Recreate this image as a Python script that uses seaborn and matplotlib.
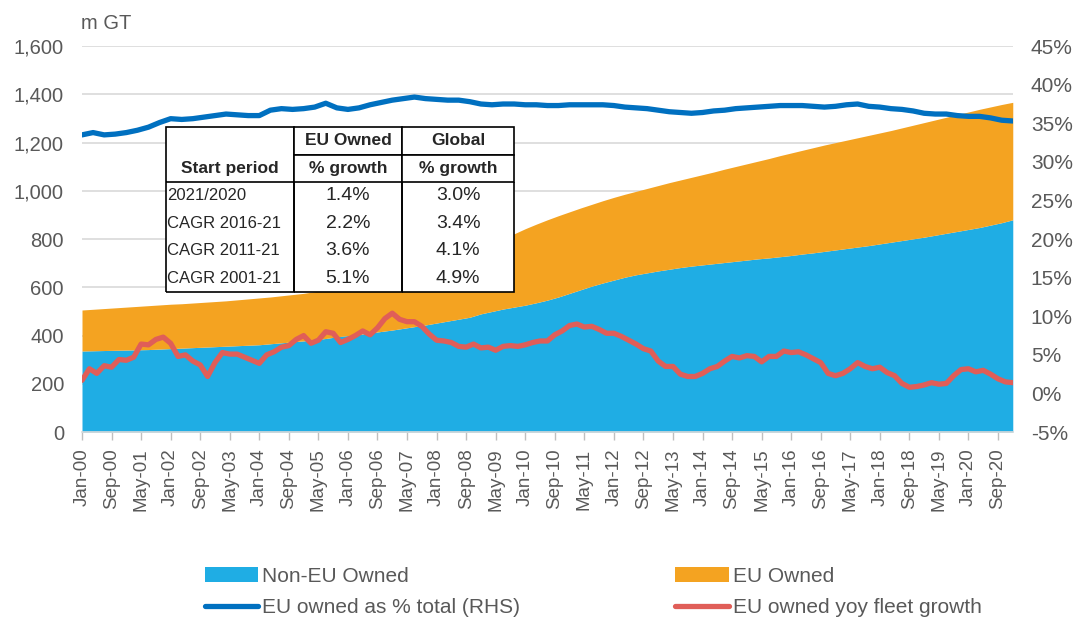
import pandas as pd
import matplotlib.pyplot as plt
import seaborn as sns
from matplotlib.patches import Rectangle

# Quarterly points, months since Jan-00
quarter_months = list(range(0, 253, 3))
non_eu_owned = [336, 337, 338, 339, 340, 341, 342, 344, 346, 348, 350, 352, 354, 356, 358, 360,
                362, 366, 370, 374, 378, 383, 388, 395, 400, 405, 411, 417, 423, 430, 437, 444,
                452, 460, 468, 476, 490, 500, 510, 518, 526, 536, 547, 560, 575, 590, 605, 618,
                630, 642, 652, 660, 668, 675, 682, 688, 693, 698, 703, 708, 713, 718, 722, 727,
                732, 738, 743, 749, 755, 761, 767, 773, 780, 787, 794, 801, 808, 816, 824, 832,
                840, 848, 858, 868, 880]
total_fleet = [506, 509, 512, 515, 518, 521, 524, 527, 530, 532, 535, 538, 541, 544, 548, 552,
               556, 560, 565, 570, 575, 582, 590, 598, 607, 616, 626, 636, 647, 658, 670, 682,
               695, 710, 725, 740, 760, 780, 800, 822, 843, 862, 880, 897, 913, 929, 944, 959,
               973, 986, 998, 1010, 1022, 1034, 1045, 1056, 1067, 1078, 1090, 1101, 1112, 1123,
               1134, 1146, 1157, 1168, 1179, 1190, 1200, 1210, 1220, 1230, 1240, 1250, 1261,
               1272, 1283, 1294, 1305, 1316, 1327, 1338, 1348, 1358, 1367]
eu_share = [33.5, 33.8, 33.5, 33.6, 33.8, 34.1, 34.5, 35.1, 35.6, 35.5, 35.6, 35.8, 36.0, 36.2,
            36.1, 36.0, 36.0, 36.7, 36.9, 36.8, 36.9, 37.1, 37.6, 37.0, 36.8, 37.0, 37.4, 37.7,
            38.0, 38.2, 38.4, 38.2, 38.1, 38.0, 38.0, 37.8, 37.5, 37.4, 37.5, 37.5, 37.4, 37.4,
            37.3, 37.3, 37.4, 37.4, 37.4, 37.4, 37.3, 37.1, 37.0, 36.9, 36.7, 36.5, 36.4, 36.3,
            36.4, 36.6, 36.7, 36.9, 37.0, 37.1, 37.2, 37.3, 37.3, 37.3, 37.2, 37.1, 37.2, 37.4,
            37.5, 37.2, 37.1, 36.9, 36.8, 36.6, 36.3, 36.2, 36.2, 36.0, 35.9, 35.9, 35.7, 35.4,
            35.3]

# Bi-monthly points for the yoy growth line
growth_months = list(range(0, 253, 2))
eu_growth = [1.7, 3.2, 2.6, 3.6, 3.4, 4.4, 4.3, 4.7, 6.4, 6.3, 7.0, 7.3, 6.5, 4.8, 5.0, 4.2,
             3.7, 2.2, 4.0, 5.3, 5.1, 5.1, 4.7, 4.3, 3.9, 5.0, 5.4, 6.0, 6.2, 7.0, 7.5, 6.5,
             6.9, 8.0, 7.8, 6.6, 7.0, 7.5, 8.1, 7.6, 8.5, 9.7, 10.4, 9.6, 9.3, 9.3, 8.7, 7.7,
             6.9, 6.8, 6.6, 6.1, 6.0, 6.4, 5.9, 6.0, 5.6, 6.1, 6.2, 6.1, 6.3, 6.6, 6.8, 6.8,
             7.6, 8.1, 8.8, 9.0, 8.6, 8.7, 8.3, 7.8, 7.8, 7.4, 6.9, 6.4, 5.8, 5.5, 4.2, 3.5,
             3.5, 2.5, 2.2, 2.2, 2.6, 3.2, 3.5, 4.2, 4.8, 4.6, 4.9, 4.8, 4.1, 4.8, 4.8, 5.5,
             5.3, 5.4, 5.0, 4.5, 4.0, 2.6, 2.3, 2.6, 3.2, 4.0, 3.5, 3.2, 3.4, 2.7, 2.3, 1.3,
             0.8, 0.9, 1.1, 1.4, 1.2, 1.3, 2.3, 3.1, 3.2, 2.8, 3.0, 2.5, 1.9, 1.5, 1.4]

# Inset table
table_header = ['', 'EU Owned', 'Global']
table_sub = ['Start period', '% growth', '% growth']
periods = ['2021/2020', 'CAGR 2016-21', 'CAGR 2011-21', 'CAGR 2001-21']
eu_growth_tbl = ['1.4%', '2.2%', '3.6%', '5.1%']
global_growth_tbl = ['3.0%', '3.4%', '4.1%', '4.9%']

tick_months = list(range(0, 252, 8))
tick_labels = pd.date_range('2000-01-01', periods=len(tick_months), freq='8MS').strftime('%b-%y')

sns.set_theme(style='white')
plt.rcParams['font.family'] = ['Liberation Sans', 'DejaVu Sans']

c_non_eu = '#1FADE4'
c_eu = '#F4A321'
c_share = '#0070C0'
c_growth = '#E05E58'
grey = '#595959'

fig = plt.figure(figsize=(10.89, 6.19), dpi=100)
ax = fig.add_axes([0.0753, 0.302, 0.8547, 0.6235])

ax.fill_between(quarter_months, 0, non_eu_owned, color=c_non_eu, linewidth=0, label='Non-EU Owned')
ax.fill_between(quarter_months, non_eu_owned, total_fleet, color=c_eu, linewidth=0, label='EU Owned')
ax.set_ylim(0, 1600)
ax.set_xlim(0, 252)
ax.set_yticks(range(0, 1601, 200))
ax.set_yticklabels([f'{v:,}' for v in range(0, 1601, 200)])
ax.grid(axis='y', color='#D9D9D9', linewidth=1.2)
ax.set_axisbelow(True)
ax.set_xticks(tick_months)
ax.set_xticklabels(tick_labels, rotation=90)
ax.tick_params(axis='y', length=0, pad=13, labelsize=14.5, labelcolor=grey)
ax.tick_params(axis='x', bottom=True, length=6, width=1, color='#BFBFBF', pad=6,
               labelsize=13.5, labelcolor=grey)
for s in ['top', 'right', 'left']:
    ax.spines[s].set_visible(False)
ax.spines['bottom'].set_color('#D9D9D9')
ax.spines['bottom'].set_linewidth(1.2)

ax2 = ax.twinx()
sns.lineplot(x=quarter_months, y=eu_share, ax=ax2, color=c_share, linewidth=3.8,
             label='EU owned as % total (RHS)', legend=False)
sns.lineplot(x=growth_months, y=eu_growth, ax=ax2, color=c_growth, linewidth=3.8,
             label='EU owned yoy fleet growth', legend=False)
ax2.set_ylim(-5, 45)
ax2.set_yticks(range(-5, 46, 5))
ax2.set_yticklabels([f'{v}%' for v in range(-5, 46, 5)])
ax2.tick_params(axis='y', length=0, pad=13, labelsize=15, labelcolor=grey)
ax2.grid(False)
for s in ['top', 'right', 'left', 'bottom']:
    ax2.spines[s].set_visible(False)
ax2.set_xlim(0, 252)

fig.text(0.074, 0.962, 'm GT', fontsize=14.5, color=grey, ha='left', va='center')

# Table
tbl_box = [(166 - 82) / 931, (432 - 292) / 386, 348 / 931, 165 / 386]
ax2.add_patch(Rectangle((tbl_box[0], tbl_box[1]), tbl_box[2], tbl_box[3], transform=ax2.transAxes,
                        facecolor='white', edgecolor='none', zorder=9))
cells = [table_header, table_sub] + [[p, e, g] for p, e, g in zip(periods, eu_growth_tbl, global_growth_tbl)]
tbl = ax2.table(cellText=cells, cellLoc='center', colWidths=[128, 109, 112], bbox=tbl_box)
tbl.set_zorder(10)
tbl.auto_set_font_size(False)
n_rows = len(cells)
for (r, c), cell in tbl.get_celld().items():
    cell.set_edgecolor('black')
    cell.set_linewidth(1.2)
    cell.set_facecolor('white')
    txt = cell.get_text()
    txt.set_fontsize(12)
    if r < 2:
        txt.set_fontweight('bold')
        txt.set_fontsize(12.5)
    if c == 0:
        if r == 0:
            cell.visible_edges = 'LTR'
        elif r == 1:
            cell.visible_edges = 'LRB'
        else:
            txt.set_ha('left')
            cell.PAD = 0.01
            cell.visible_edges = 'LRB' if r == n_rows - 1 else 'LR'
            cell._loc = 'left'
    else:
        if r < 2:
            cell.visible_edges = 'closed'
        else:
            cell.visible_edges = 'LRB' if r == n_rows - 1 else 'LR'
            txt.set_fontsize(14)

h1, l1 = ax.get_legend_handles_labels()
h2, l2 = ax2.get_legend_handles_labels()
handles = [h1[0], h2[0], h1[1], h2[1]]
labels = [l1[0], l2[0], l1[1], l2[1]]
fig.legend(handles, labels, loc='center left', bbox_to_anchor=(0.171, 0.044), ncol=2, frameon=False,
           fontsize=15, handlelength=2.55, handletextpad=0.2, columnspacing=7.45,
           labelspacing=0.6, labelcolor=grey)

fig.savefig('out.png', dpi=100)
